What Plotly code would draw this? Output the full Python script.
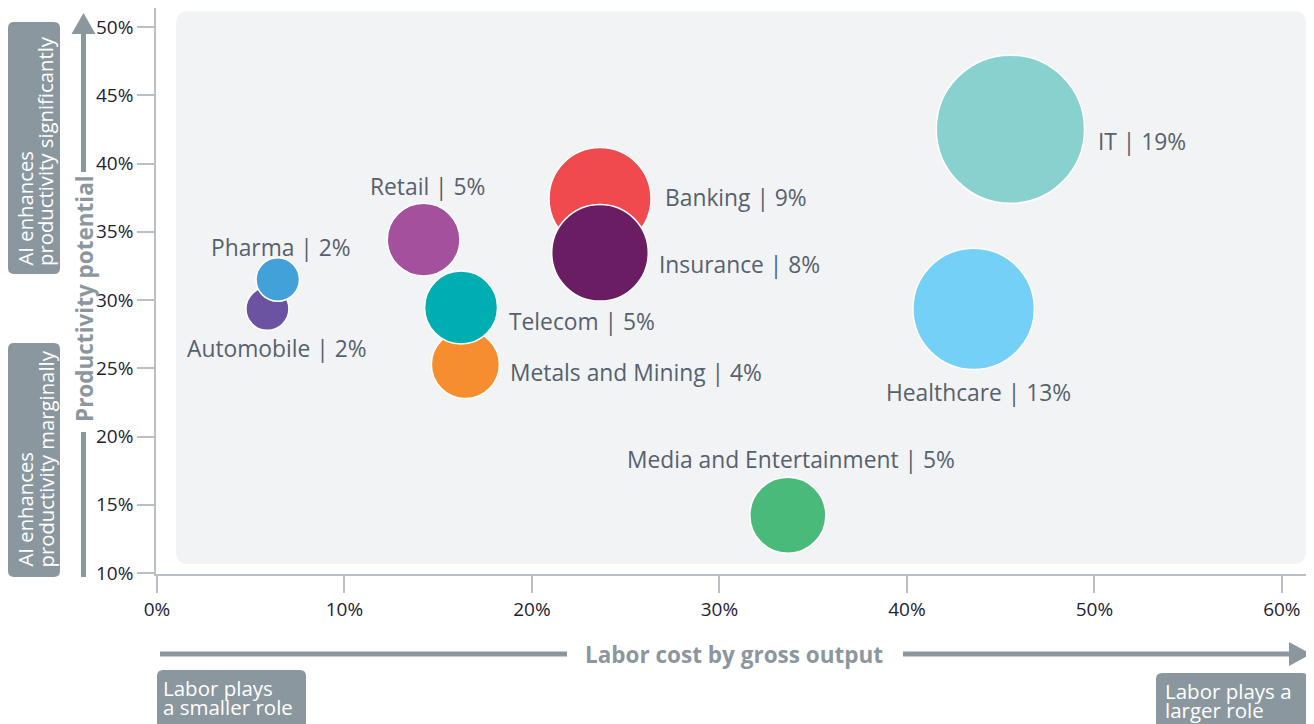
import plotly.graph_objects as go

# ---------------- data ----------------
sectors = ["IT", "Healthcare", "Banking", "Insurance", "Retail", "Automobile",
           "Pharma", "Metals and Mining", "Telecom", "Media and Entertainment"]
labor_cost = [45.52, 43.56, 23.63, 23.63, 14.22, 5.89, 6.44, 16.45, 16.22, 33.65]      # x, %
productivity = [42.51, 29.35, 37.43, 33.46, 34.42, 29.35, 31.50, 25.27, 29.45, 14.23]  # y, %
share = [19.0, 12.75, 9.0, 8.07, 4.56, 1.6, 1.63, 4.0, 4.6, 5.0]                       # bubble size, %
colors = ["#88d1cf", "#74d0f6", "#f0494e", "#6a1d63", "#a4509c", "#6b53a2",
          "#42a1d9", "#f68d2e", "#00adb0", "#4aba7b"]
x_ticks = [0, 10, 20, 30, 40, 50, 60]
y_ticks = [10, 15, 20, 25, 30, 35, 40, 45, 50]
x_ticktext = [f"{v}%" for v in x_ticks]
y_ticktext = [f"{v}%" for v in y_ticks]

# label placement: (anchor, dx px, dy px) relative to bubble centre
label_place = {
    "IT": ("left", 86, 10.5),
    "Healthcare": ("center", 5, 82),
    "Banking": ("left", 63, -2.5),
    "Insurance": ("left", 57, 10),
    "Retail": ("center", 4, -55),
    "Automobile": ("center", 9.5, 38),
    "Pharma": ("center", 3.5, -34),
    "Metals and Mining": ("left", 43, 6),
    "Telecom": ("left", 46, 12.8),
    "Media and Entertainment": ("center", 3.6, -57.5),
}

# ---------------- layout geometry (page pixels) ----------------
PAGE_W, PAGE_H = 1314, 724
OFF = 8                      # body margin of the html page
W, H = PAGE_W - OFF, PAGE_H - OFF
PL, PR, PT, PB = 156, 1310, 8, 574
XS = 18.78     # px per % on x
YS = 13.65     # px per % on y
GRAY = "#8b979e"
LABEL = "#56616d"
FONT = "Open Sans"


def px(x):
    return (x - PL) / (PR - PL)


def py(y):
    return (PB - y) / (PB - PT)


def rrect(x0, y0, x1, y1, r):
    pts = [
        ("M", [(x0 + r, y0)]), ("L", [(x1 - r, y0)]), ("Q", [(x1, y0), (x1, y0 + r)]),
        ("L", [(x1, y1 - r)]), ("Q", [(x1, y1), (x1 - r, y1)]), ("L", [(x0 + r, y1)]),
        ("Q", [(x0, y1), (x0, y1 - r)]), ("L", [(x0, y0 + r)]), ("Q", [(x0, y0), (x0 + r, y0)]),
    ]
    s = ""
    for cmd, ps in pts:
        s += cmd + " " + " ".join(f"{px(a):.5f},{py(b):.5f}" for a, b in ps) + " "
    return s + "Z"


def tri(p1, p2, p3):
    return "M " + " L ".join(f"{px(a):.5f},{py(b):.5f}" for a, b in (p1, p2, p3)) + " Z"


fig = go.Figure()

fig.add_trace(go.Scatter(
    x=labor_cost, y=productivity, mode="markers",
    marker=dict(size=share, sizemode="area", sizeref=1 / (2 * 17 ** 2),
                color=colors, opacity=1, line=dict(color="white", width=1.5)),
    hoverinfo="text", text=sectors, cliponaxis=False,
))

shapes = []
# background panel
shapes.append(dict(type="path", xref="paper", yref="paper", layer="below",
                   path=rrect(176, 11, 1306, 564, 13),
                   fillcolor="#f2f3f5", line=dict(width=0)))
# left side boxes
shapes.append(dict(type="path", xref="paper", yref="paper", path=rrect(8, 22, 60, 274, 6),
                   fillcolor=GRAY, line=dict(width=0)))
shapes.append(dict(type="path", xref="paper", yref="paper", path=rrect(8, 343, 60, 577, 6),
                   fillcolor=GRAY, line=dict(width=0)))
# bottom boxes
shapes.append(dict(type="path", xref="paper", yref="paper", path=rrect(157, 670, 306, 740, 6),
                   fillcolor=GRAY, line=dict(width=0)))
shapes.append(dict(type="path", xref="paper", yref="paper", path=rrect(1156, 673, 1308, 740, 6),
                   fillcolor=GRAY, line=dict(width=0)))
# y arrow
shapes.append(dict(type="line", xref="paper", yref="paper", x0=px(83.5), x1=px(83.5),
                   y0=py(32), y1=py(172), line=dict(color=GRAY, width=5)))
shapes.append(dict(type="line", xref="paper", yref="paper", x0=px(83.5), x1=px(83.5),
                   y0=py(432), y1=py(577), line=dict(color=GRAY, width=5)))
shapes.append(dict(type="path", xref="paper", yref="paper",
                   path=tri((83.5, 13), (71.5, 34), (95.5, 34)),
                   fillcolor=GRAY, line=dict(width=0)))
# x arrow
shapes.append(dict(type="line", xref="paper", yref="paper", x0=px(160), x1=px(567),
                   y0=py(654), y1=py(654), line=dict(color=GRAY, width=5)))
shapes.append(dict(type="line", xref="paper", yref="paper", x0=px(903), x1=px(1292),
                   y0=py(654), y1=py(654), line=dict(color=GRAY, width=5)))
shapes.append(dict(type="path", xref="paper", yref="paper",
                   path=tri((1311, 654), (1289, 642), (1289, 666)),
                   fillcolor=GRAY, line=dict(width=0)))

ann = []
# bubble labels
for name, xv, yv, sv in zip(sectors, labor_cost, productivity, share):
    anchor, dx, dy = label_place[name]
    ann.append(dict(x=xv, y=yv, xref="x", yref="y", text=f"{name} | {sv:.0f}%",
                    showarrow=False, xanchor=anchor, yanchor="middle",
                    xshift=dx, yshift=-dy - 1.5,
                    font=dict(family=FONT, size=22.8, color=LABEL)))

# axis titles
ann.append(dict(x=px(84), y=py(299), xref="paper", yref="paper", text="<b>Productivity potential</b>",
                textangle=-90, showarrow=False, xanchor="center", yanchor="middle",
                font=dict(family=FONT, size=22.5, color=GRAY)))
ann.append(dict(x=px(734), y=py(654), xref="paper", yref="paper", text="<b>Labor cost by gross output</b>",
                showarrow=False, xanchor="center", yanchor="middle",
                font=dict(family=FONT, size=22.5, color=GRAY)))

# side box texts (rotated)
for cx, bottom, txt in [(24, 268, "AI enhances"), (45, 268, "productivity significantly"),
                        (24, 569, "AI enhances"), (45, 570, "productivity marginally")]:
    ann.append(dict(x=px(cx), y=py(bottom), xref="paper", yref="paper", text=txt,
                    textangle=-90, showarrow=False, xanchor="center", yanchor="bottom",
                    font=dict(family=FONT, size=20.3, color="white")))

# bottom box texts
for lx, cy, txt in [(162, 688, "Labor plays"), (162, 707, "a smaller role"),
                    (1164, 691, "Labor plays a"), (1164, 710, "larger role")]:
    ann.append(dict(x=px(lx), y=py(cy), xref="paper", yref="paper", text=txt,
                    showarrow=False, xanchor="left", yanchor="middle", borderpad=0,
                    font=dict(family=FONT, size=20.5, color="white")))

axis_common = dict(showgrid=False, zeroline=False, showline=True, linecolor="#b9bfc4",
                   linewidth=1.5, ticks="outside", ticklen=17, tickcolor="#b9bfc4",
                   tickwidth=1.5, tickmode="array", fixedrange=True,
                   tickfont=dict(family=FONT, size=19, color="#1e2232"))

fig.update_layout(
    width=W, height=H,
    margin=dict(l=PL - OFF, r=PAGE_W - PR, t=PT - OFF, b=PAGE_H - PB, pad=0),
    plot_bgcolor="rgba(0,0,0,0)", paper_bgcolor="white", showlegend=False,
    xaxis=dict(range=[-(156 - 155) / XS, (PR - 155) / XS], tickvals=x_ticks, ticktext=x_ticktext, **axis_common),
    yaxis=dict(range=[10 - (PB - 573) / YS, 10 + (573 - PT) / YS], tickvals=y_ticks, ticktext=y_ticktext, **axis_common),
    shapes=shapes, annotations=ann,
)

fig.write_html("out.html")
